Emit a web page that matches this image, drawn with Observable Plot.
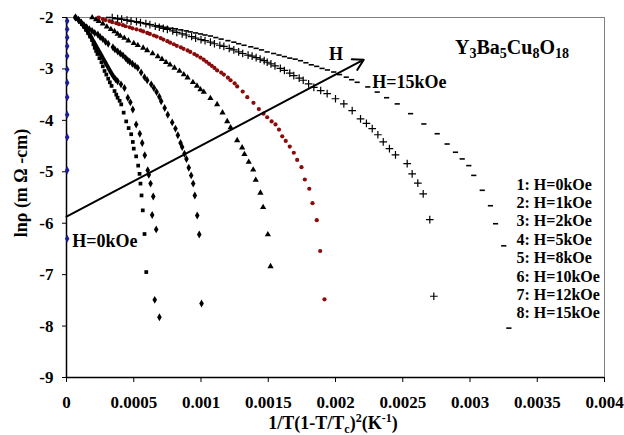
<!DOCTYPE html>
<html>
<head>
<meta charset="utf-8">
<script src="https://cdn.jsdelivr.net/npm/d3@7"></script>
<script src="https://cdn.jsdelivr.net/npm/@observablehq/plot@0.6"></script>
<style>
  html, body { margin: 0; padding: 0; background: #fff; }
  #chart { width: 624px; height: 435px; }
</style>
</head>
<body>
<div id="chart"></div>
<script>
// ---------- data ----------
const seriesNames = ["1: H=0kOe","2: H=1kOe","3: H=2kOe","4: H=5kOe","5: H=8kOe","6: H=10kOe","7: H=12kOe","8: H=15kOe"];

const h0 = [[0.000005,-2.07],[0.000005,-2.23],[0.000005,-2.39],[0.000005,-2.56],[0.000005,-2.75],[0.000005,-3.01],[0.000005,-3.27],[0.000005,-3.55],[0.000005,-3.89],[0.000005,-4.33],[0.000005,-4.97],[0.000005,-6.30]];

const h1 = [[0.000067,-2.00],[0.00008,-2.03],[0.00010,-2.08],[0.000115,-2.13],[0.00013,-2.18],[0.000145,-2.24],[0.00016,-2.30],[0.000175,-2.37],[0.00019,-2.44],[0.0002,-2.52],[0.00021,-2.59],[0.00022,-2.65],[0.00023,-2.71],[0.000245,-2.79],[0.00026,-2.87],[0.00027,-2.95],[0.000283,-3.04],[0.000296,-3.11],[0.00031,-3.19],[0.000322,-3.26],[0.000335,-3.33],[0.000357,-3.43],[0.00037,-3.50],[0.00038,-3.56],[0.000395,-3.62],[0.000407,-3.69],[0.000425,-3.85],[0.000444,-4.02],[0.000462,-4.15],[0.000481,-4.27],[0.000493,-4.42],[0.0005,-4.55],[0.000518,-4.70],[0.000533,-4.88],[0.000543,-5.04],[0.00055,-5.23],[0.000558,-5.46],[0.000567,-5.75],[0.00058,-6.21],[0.000593,-6.95]];

const h2 = [[0.000067,-2.00],[0.00009,-2.05],[0.00011,-2.10],[0.000125,-2.15],[0.00014,-2.20],[0.000155,-2.26],[0.00017,-2.33],[0.000185,-2.39],[0.0002,-2.46],[0.000215,-2.53],[0.00023,-2.60],[0.000245,-2.67],[0.00026,-2.74],[0.000275,-2.81],[0.00029,-2.88],[0.000305,-2.95],[0.00032,-3.02],[0.000335,-3.09],[0.00035,-3.15],[0.000365,-3.20],[0.00038,-3.24],[0.000405,-3.30],[0.000431,-3.37],[0.000456,-3.56],[0.000475,-3.65],[0.000493,-3.79],[0.000518,-4.08],[0.000545,-4.26],[0.000563,-4.44],[0.000582,-4.68],[0.000604,-4.97],[0.000612,-5.06],[0.000625,-5.23],[0.000645,-5.48],[0.000637,-5.84],[0.000667,-6.12],[0.000656,-7.49],[0.000691,-7.83]];

const h5 = [[0.000067,-2.00],[0.00009,-2.05],[0.00011,-2.10],[0.00013,-2.15],[0.00015,-2.19],[0.00017,-2.23],[0.00019,-2.26],[0.00021,-2.30],[0.000233,-2.33],[0.00025,-2.38],[0.00027,-2.42],[0.00029,-2.47],[0.00031,-2.51],[0.000345,-2.58],[0.00036,-2.62],[0.000381,-2.66],[0.0004,-2.70],[0.00042,-2.74],[0.00044,-2.79],[0.000455,-2.83],[0.00047,-2.86],[0.00049,-2.90],[0.00051,-2.94],[0.00053,-2.98],[0.000555,-3.07],[0.00058,-3.16],[0.0006,-3.22],[0.00063,-3.30],[0.00065,-3.37],[0.00067,-3.45],[0.00069,-3.54],[0.000704,-3.63],[0.00073,-3.76],[0.000753,-3.89],[0.000786,-4.04],[0.00081,-4.16],[0.000828,-4.29],[0.000848,-4.44],[0.00086,-4.52],[0.000877,-4.65],[0.000892,-4.75],[0.000909,-4.92],[0.000927,-5.07],[0.000942,-5.23],[0.000954,-5.46],[0.000972,-5.85],[0.000987,-6.22],[0.001004,-7.56]];

const h8 = [[0.000191,-2.00],[0.00022,-2.04],[0.00024,-2.07],[0.00027,-2.12],[0.0003,-2.18],[0.00033,-2.23],[0.000357,-2.27],[0.00038,-2.32],[0.0004,-2.36],[0.00043,-2.40],[0.00046,-2.45],[0.0005,-2.50],[0.00053,-2.54],[0.00057,-2.59],[0.0006,-2.64],[0.00064,-2.70],[0.000679,-2.76],[0.00071,-2.81],[0.00074,-2.87],[0.00077,-2.92],[0.000803,-2.98],[0.00084,-3.04],[0.000872,-3.11],[0.0009,-3.17],[0.00094,-3.26],[0.00097,-3.33],[0.000996,-3.40],[0.001021,-3.45],[0.00107,-3.57],[0.00112,-3.69],[0.00116,-3.85],[0.001195,-4.02],[0.00122,-4.14],[0.001269,-4.39],[0.001306,-4.53],[0.001323,-4.66],[0.001355,-4.81],[0.001388,-4.96],[0.001407,-5.16],[0.001442,-5.41],[0.001462,-5.69],[0.001497,-6.22],[0.001517,-6.84]];

const h10 = [[0.00024,-2.00],[0.00027,-2.03],[0.00029,-2.05],[0.00032,-2.07],[0.00034,-2.09],[0.00037,-2.11],[0.00039,-2.13],[0.00042,-2.15],[0.00044,-2.17],[0.00047,-2.19],[0.00049,-2.21],[0.00052,-2.23],[0.00055,-2.25],[0.00057,-2.27],[0.0006,-2.30],[0.00062,-2.32],[0.00065,-2.35],[0.00067,-2.37],[0.0007,-2.40],[0.00072,-2.43],[0.00075,-2.46],[0.00077,-2.49],[0.000798,-2.52],[0.00082,-2.55],[0.00085,-2.58],[0.00087,-2.61],[0.0009,-2.64],[0.00092,-2.67],[0.00095,-2.71],[0.00097,-2.74],[0.000996,-2.78],[0.00102,-2.82],[0.00104,-2.86],[0.00106,-2.90],[0.00108,-2.94],[0.0011,-2.98],[0.00112,-3.03],[0.00115,-3.07],[0.00117,-3.11],[0.0012,-3.17],[0.00122,-3.22],[0.00125,-3.28],[0.001269,-3.34],[0.00131,-3.44],[0.001344,-3.55],[0.00139,-3.66],[0.00143,-3.78],[0.001465,-3.87],[0.001492,-3.94],[0.001525,-4.02],[0.001554,-4.08],[0.00158,-4.18],[0.001604,-4.31],[0.00163,-4.40],[0.00166,-4.51],[0.00169,-4.63],[0.001715,-4.77],[0.001747,-4.91],[0.001772,-5.15],[0.001805,-5.33],[0.001829,-5.61],[0.001861,-5.94],[0.001886,-6.54],[0.001918,-7.48]];

const h12 = [[0.00034,-2.00],[0.00038,-2.02],[0.00041,-2.03],[0.00045,-2.05],[0.00048,-2.07],[0.00052,-2.08],[0.00055,-2.10],[0.00059,-2.12],[0.00062,-2.14],[0.00066,-2.17],[0.00069,-2.19],[0.00072,-2.21],[0.00075,-2.23],[0.00079,-2.26],[0.00082,-2.29],[0.00086,-2.32],[0.00089,-2.34],[0.00093,-2.37],[0.00096,-2.40],[0.001,-2.43],[0.00103,-2.45],[0.00107,-2.48],[0.0011,-2.51],[0.00114,-2.54],[0.00117,-2.56],[0.00121,-2.60],[0.001244,-2.63],[0.00128,-2.67],[0.00131,-2.70],[0.00135,-2.73],[0.00138,-2.75],[0.00141,-2.78],[0.00144,-2.81],[0.00147,-2.84],[0.001492,-2.87],[0.00152,-2.90],[0.00155,-2.94],[0.00159,-2.99],[0.00162,-3.03],[0.00166,-3.08],[0.00169,-3.13],[0.00173,-3.18],[0.00176,-3.22],[0.0018,-3.29],[0.001839,-3.36],[0.00189,-3.42],[0.001938,-3.48],[0.002,-3.58],[0.002062,-3.68],[0.002124,-3.81],[0.002186,-3.97],[0.00223,-4.06],[0.002273,-4.16],[0.002315,-4.28],[0.002355,-4.42],[0.002401,-4.55],[0.002446,-4.67],[0.002533,-4.84],[0.00257,-5.04],[0.002612,-5.22],[0.002652,-5.43],[0.002701,-5.93],[0.002731,-7.42]];

const h15 = [[0.000312,-2.00],[0.00036,-2.02],[0.0004,-2.03],[0.00044,-2.05],[0.00048,-2.07],[0.00052,-2.09],[0.00055,-2.10],[0.00059,-2.12],[0.00063,-2.14],[0.00067,-2.16],[0.0007,-2.17],[0.00074,-2.19],[0.000773,-2.21],[0.00081,-2.22],[0.00085,-2.24],[0.00089,-2.26],[0.00092,-2.28],[0.00096,-2.30],[0.000996,-2.32],[0.00103,-2.34],[0.00107,-2.36],[0.00111,-2.39],[0.00115,-2.42],[0.0012,-2.45],[0.001244,-2.48],[0.00128,-2.51],[0.00132,-2.54],[0.00137,-2.57],[0.00141,-2.60],[0.00145,-2.63],[0.001492,-2.67],[0.00154,-2.70],[0.00158,-2.73],[0.00162,-2.76],[0.00166,-2.79],[0.0017,-2.81],[0.00174,-2.84],[0.00178,-2.88],[0.00182,-2.92],[0.00186,-2.95],[0.0019,-2.99],[0.00194,-3.02],[0.001987,-3.06],[0.00203,-3.11],[0.00208,-3.16],[0.00212,-3.21],[0.002161,-3.26],[0.00224,-3.35],[0.00231,-3.45],[0.00238,-3.56],[0.002459,-3.68],[0.002558,-3.87],[0.002657,-4.07],[0.002756,-4.26],[0.00283,-4.46],[0.002892,-4.62],[0.002942,-4.75],[0.002991,-4.88],[0.003028,-5.07],[0.003091,-5.36],[0.003152,-5.66],[0.00319,-6.01],[0.003251,-6.44],[0.003289,-8.04]];

const xTicks = [0, 0.0005, 0.001, 0.0015, 0.002, 0.0025, 0.003, 0.0035, 0.004];
const yTicks = [-2, -3, -4, -5, -6, -7, -8, -9];

// arrow "H" (from low to high field)
const arrowLine = [{x1: 0, y1: -5.87, x2: 0.00221, y2: -2.82}];
// annotation labels
const noteH = [{x: 0.002004, y: -2.72, text: "H"}];
const noteLeft = [
  {x: 0.002273, y: -3.25, text: "H=15kOe"},
  {x: 0.000042, y: -6.36, text: "H=0kOe"}
];

// ---------- build ----------
const toRows = (arr) => arr.map(([x, y]) => ({x, y}));
const dash = {
  draw(ctx, size) {
    const w = Math.sqrt(size) / 1.5;
    ctx.rect(-w, -0.8, 2 * w, 1.6);
  }
};
const font = "'Liberation Serif', 'Times New Roman', serif";

const chart = Plot.plot({
  width: 624,
  height: 435,
  marginLeft: 66,
  marginRight: 20,
  marginTop: 17,
  marginBottom: 58,
  style: {fontFamily: font, fontSize: "17px", fontWeight: "bold", background: "#fff", color: "#000"},
  x: {domain: [0, 0.004], label: null},
  y: {domain: [-9, -2], label: null},
  marks: [
    Plot.frame({stroke: "#808080", strokeWidth: 1}),
    Plot.axisX({ticks: xTicks, tickFormat: d3.format("~g"), tickSize: 5, tickPadding: 13, fontSize: 17, fontWeight: "bold", label: null}),
    Plot.axisY({ticks: yTicks, tickFormat: (d) => String(d), tickSize: 4, tickPadding: 9, fontSize: 17, fontWeight: "bold", label: null}),
    Plot.ruleX([0], {stroke: "#000", strokeWidth: 1.5}),
    Plot.ruleY([-9], {stroke: "#000", strokeWidth: 1.5}),
    Plot.dot(toRows(h0), {x: "x", y: "y", symbol: "diamond", r: 2.4, fill: "#1c1c96"}),
    Plot.dot(toRows(h1), {x: "x", y: "y", symbol: "square", r: 2.1, fill: "#000"}),
    Plot.dot(toRows(h2), {x: "x", y: "y", symbol: "diamond", r: 2.4, fill: "#000"}),
    Plot.dot(toRows(h5), {x: "x", y: "y", symbol: "diamond", r: 2.4, fill: "#000"}),
    Plot.dot(toRows(h8), {x: "x", y: "y", symbol: "triangle", r: 2.3, fill: "#000"}),
    Plot.dot(toRows(h10), {x: "x", y: "y", symbol: "circle", r: 2.1, fill: "#8b0a0a"}),
    Plot.dot(toRows(h12), {x: "x", y: "y", symbol: "plus", r: 2.6, stroke: "#000", strokeWidth: 1.2}),
    Plot.dot(toRows(h15), {x: "x", y: "y", symbol: dash, r: 2.2, fill: "#000", stroke: "none"}),
    Plot.arrow(arrowLine, {x1: "x1", y1: "y1", x2: "x2", y2: "y2", stroke: "#000", strokeWidth: 2, headLength: 9, inset: 0}),
    Plot.text(noteH, {x: "x", y: "y", text: "text", textAnchor: "middle", fontSize: 18, fontWeight: "bold"}),
    Plot.text(noteLeft, {x: "x", y: "y", text: "text", textAnchor: "start", fontSize: 18, fontWeight: "bold"}),
    Plot.text([seriesNames.join("\n")], {frameAnchor: "top-left", dx: 450, dy: 159, lineHeight: 1.15, fontSize: 16, fontWeight: "bold", textAnchor: "start"})
  ]
});

document.getElementById("chart").appendChild(chart);

// ---------- rich text labels (subscripts / superscripts) ----------
const svg = d3.select(chart);

// compound formula
const formula = svg.append("text")
  .attr("x", 455).attr("y", 54).attr("text-anchor", "start")
  .attr("font-family", font).attr("font-weight", "bold").attr("font-size", 20).attr("fill", "#000");
[["Y", false], ["3", true], ["Ba", false], ["5", true], ["Cu", false], ["8", true], ["O", false], ["18", true]].forEach(([t, sub], i) => {
  formula.append("tspan")
    .attr("font-size", sub ? 14 : 20)
    .attr("dy", i === 0 ? 0 : (sub ? 4 : -4))
    .text(t);
});

// x-axis title
const xl = svg.append("text")
  .attr("x", 333).attr("y", 429).attr("text-anchor", "middle")
  .attr("font-family", font).attr("font-weight", "bold").attr("font-size", 18).attr("fill", "#000");
xl.append("tspan").text("1/T(1-T/T");
xl.append("tspan").attr("font-size", 12).attr("dy", 4).text("c");
xl.append("tspan").attr("dy", -4).text(")");
xl.append("tspan").attr("font-size", 12).attr("dy", -7).text("2");
xl.append("tspan").attr("dy", 7).text("(K");
xl.append("tspan").attr("font-size", 12).attr("dy", -7).text("-1");
xl.append("tspan").attr("dy", 7).text(")");

// y-axis title
svg.append("text")
  .attr("transform", "translate(27,183) rotate(-90)")
  .attr("text-anchor", "middle")
  .attr("font-family", font).attr("font-weight", "bold").attr("font-size", 18).attr("fill", "#000")
  .text("lnρ (m Ω -cm)");
</script>
</body>
</html>
